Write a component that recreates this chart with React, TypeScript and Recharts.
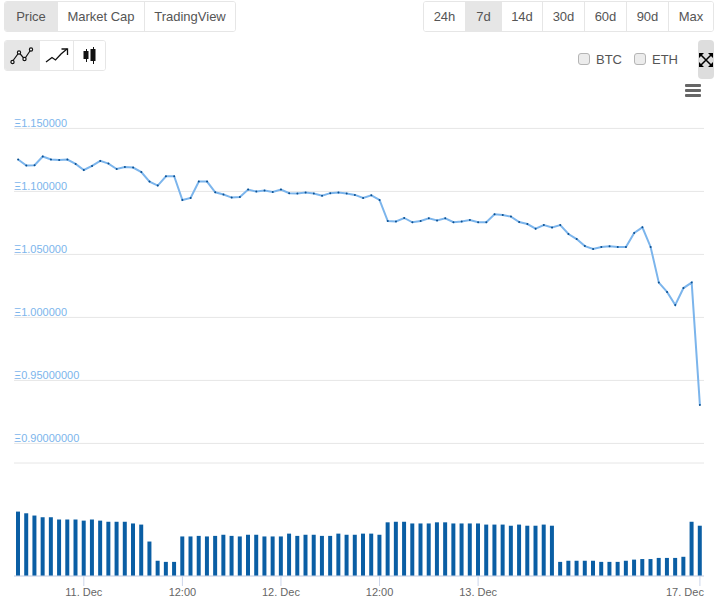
import React from "react";
import { Bar, CartesianGrid, ComposedChart, Line, XAxis, YAxis } from "recharts";

const priceValues = [
  1.1253, 1.1205, 1.1208, 1.1277, 1.1253, 1.125, 1.1253, 1.1218, 1.117, 1.1202,
  1.1242, 1.1221, 1.1178, 1.1194, 1.1189, 1.1154, 1.1078, 1.1046, 1.112, 1.112,
  1.0932, 1.0948, 1.1078, 1.1078, 1.0993, 1.0975, 1.0951, 1.0956, 1.1015, 1.0999,
  1.1007, 1.0996, 1.1015, 1.0986, 1.0983, 1.0991, 1.0983, 1.0965, 1.0986, 1.0991,
  1.0983, 1.0972, 1.0948, 1.0969, 1.0932, 1.0765, 1.0762, 1.0789, 1.0755, 1.0765,
  1.0786, 1.077, 1.0786, 1.0755, 1.0762, 1.0773, 1.0755, 1.0755, 1.0818, 1.0813,
  1.08, 1.0757, 1.0741, 1.0704, 1.0733, 1.0714, 1.0733, 1.0662, 1.0622, 1.0566,
  1.0543, 1.0559, 1.0564, 1.0559, 1.0559, 1.067, 1.0715, 1.0559, 1.0276, 1.0202,
  1.0098, 1.0233, 1.0276, 0.9305,
];

const volumeValues = [
  1.14, 1.11, 1.07, 1.04, 1.04, 1.0, 1.0, 1.0, 0.98, 1.0, 0.98, 0.96, 0.96, 0.96,
  0.93, 0.91, 0.61, 0.27, 0.25, 0.25, 0.7, 0.7, 0.71, 0.7, 0.71, 0.73, 0.71, 0.7,
  0.73, 0.73, 0.7, 0.7, 0.7, 0.75, 0.71, 0.73, 0.73, 0.71, 0.71, 0.75, 0.73, 0.73,
  0.75, 0.75, 0.73, 0.95, 0.96, 0.96, 0.93, 0.93, 0.93, 0.95, 0.95, 0.93, 0.93,
  0.93, 0.93, 0.91, 0.91, 0.91, 0.89, 0.91, 0.89, 0.89, 0.91, 0.89, 0.25, 0.27,
  0.27, 0.27, 0.27, 0.25, 0.25, 0.25, 0.27, 0.29, 0.3, 0.3, 0.32, 0.32, 0.32, 0.34,
  0.96, 0.89,
];

const priceTicks = [1.15, 1.1, 1.05, 1.0, 0.95, 0.9];
const volumeTicks = [0, 1, 2];
const dateTickIndexes = [8, 20, 32, 44, 56, 83];
const dateTickLabels = ["11. Dec", "12:00", "12. Dec", "12:00", "13. Dec", "17. Dec"];
const viewTabs = ["Price", "Market Cap", "TradingView"];
const rangeTabs = ["24h", "7d", "14d", "30d", "60d", "90d", "Max"];
const compareCoins = ["BTC", "ETH"];

const FONT = '"Liberation Sans", Arial, sans-serif';

const rows = priceValues.map((price, i) => ({ i, price, volume: volumeValues[i] }));

function fmtPrice(v: number): string {
  return "Ξ" + (v >= 1 ? v.toFixed(6) : v.toFixed(8));
}

function PriceTick({ y, payload }: any) {
  return (
    <text x={14} y={y - 1} fontSize={11} fontFamily={FONT} fill="#7cb5ec">
      {fmtPrice(payload.value)}
    </text>
  );
}

function DateTick({ x, y, payload }: any) {
  const idx = dateTickIndexes.indexOf(payload.value);
  const last = idx === dateTickIndexes.length - 1;
  return (
    <text
      x={last ? x + 4 : x}
      y={y + 8}
      textAnchor={last ? "end" : "middle"}
      fontSize={11}
      fontFamily={FONT}
      fill="#666666"
    >
      {dateTickLabels[idx]}
    </text>
  );
}

function Tabs({ labels, active, widths, left }: { labels: string[]; active: string; widths: number[]; left: number }) {
  return (
    <div
      style={{
        position: "absolute",
        left,
        top: 1,
        height: 29,
        display: "flex",
        border: "1px solid #e6e6e6",
        borderRadius: 3,
        overflow: "hidden",
        fontSize: 13,
        color: "#555",
        fontFamily: FONT,
      }}
    >
      {labels.map((l, i) => (
        <div
          key={l}
          style={{
            width: widths[i],
            boxSizing: "border-box",
            lineHeight: "29px",
            textAlign: "center",
            background: l === active ? "#e6e6e6" : "#fff",
            borderLeft: i > 0 ? "1px solid #e6e6e6" : "none",
          }}
        >
          {l}
        </div>
      ))}
    </div>
  );
}

function LineIcon() {
  return (
    <svg width="24" height="20" viewBox="0 0 24 20" fill="none" stroke="#111" strokeWidth="1.2">
      <path d="M2 16 L9 6.5 L14.5 13 L21 3.5" />
      <circle cx="2.5" cy="16" r="1.6" fill="#fff" />
      <circle cx="9" cy="6.5" r="1.6" fill="#fff" />
      <circle cx="14.5" cy="13" r="1.6" fill="#fff" />
      <circle cx="21" cy="3.5" r="1.6" fill="#fff" />
    </svg>
  );
}

function TrendIcon() {
  return (
    <svg width="24" height="20" viewBox="0 0 24 20" fill="none" stroke="#111" strokeWidth="1.3">
      <path d="M1 16 L7 11.5 L10.5 14 L16 8 L22 3" />
      <path d="M16.5 3 H22.5 V9" />
    </svg>
  );
}

function CandleIcon() {
  return (
    <svg width="16" height="20" viewBox="0 0 16 20" fill="#111" stroke="#111">
      <path d="M4.5 3 V16 M11.5 1 V18" strokeWidth="1" />
      <rect x="2" y="5.5" width="4" height="7" />
      <rect x="9" y="3.5" width="4" height="11" />
    </svg>
  );
}

function ExpandIcon() {
  return (
    <svg width="14" height="14" viewBox="0 0 14 14" fill="#000" stroke="#000">
      <path d="M2 2 L12 12 M12 2 L2 12" strokeWidth="1.5" />
      <path d="M0 0 H5 L0 5 Z M14 0 H9 L14 5 Z M0 14 H5 L0 9 Z M14 14 H9 L14 9 Z" strokeWidth="0" />
    </svg>
  );
}

export default function App() {
  const iconBtn = (left: number, width: number, active: boolean, icon: React.ReactNode) => (
    <div
      style={{
        position: "absolute",
        left,
        top: 0,
        width,
        height: 29,
        display: "flex",
        alignItems: "center",
        justifyContent: "center",
        background: active ? "#e6e6e6" : "#fff",
        borderLeft: left > 0 ? "1px solid #e6e6e6" : "none",
        boxSizing: "border-box",
      }}
    >
      {icon}
    </div>
  );

  return (
    <div style={{ position: "absolute", left: 0, top: 0, width: 717, height: 603, background: "#fff", overflow: "hidden" }}>
      <Tabs labels={viewTabs} active="Price" widths={[52, 87, 91]} left={4} />
      <Tabs labels={rangeTabs} active="7d" widths={[41, 36, 41, 42, 42, 42, 45]} left={423} />

      <div
        style={{
          position: "absolute",
          left: 4,
          top: 40,
          width: 100,
          height: 29,
          border: "1px solid #e6e6e6",
          borderRadius: 3,
          overflow: "hidden",
        }}
      >
        {iconBtn(0, 34, true, <LineIcon />)}
        {iconBtn(34, 34, false, <TrendIcon />)}
        {iconBtn(68, 32, false, <CandleIcon />)}
      </div>

      {compareCoins.map((coin, i) => (
        <React.Fragment key={coin}>
          <div
            style={{
              position: "absolute",
              left: 578 + i * 56,
              top: 53,
              width: 10,
              height: 10,
              background: "#ececec",
              border: "1px solid #b5b5b5",
              borderRadius: 3,
            }}
          />
          <div
            style={{
              position: "absolute",
              left: 596 + i * 56,
              top: 51,
              fontSize: 13,
              lineHeight: "18px",
              color: "#555",
              fontFamily: FONT,
            }}
          >
            {coin}
          </div>
        </React.Fragment>
      ))}

      <div
        style={{
          position: "absolute",
          left: 698,
          top: 40,
          width: 16,
          height: 39,
          background: "#dddddd",
          borderRadius: 4,
          display: "flex",
          alignItems: "center",
          justifyContent: "center",
        }}
      >
        <ExpandIcon />
      </div>

      <svg style={{ position: "absolute", left: 685, top: 84 }} width="16" height="13">
        <rect x="0" y="0" width="16" height="3" rx="1" fill="#666" />
        <rect x="0" y="5" width="16" height="3" rx="1" fill="#666" />
        <rect x="0" y="10" width="16" height="3" rx="1" fill="#666" />
      </svg>

      <div style={{ position: "absolute", left: 0, top: 0 }}>
        <ComposedChart width={717} height={450} data={rows} margin={{ top: 128.4, right: 13, bottom: 6.6, left: 13 }}>
          <CartesianGrid vertical={false} stroke="#e6e6e6" />
          <XAxis dataKey="i" hide scale="band" />
          <YAxis
            domain={[0.9, 1.15]}
            ticks={priceTicks}
            width={1}
            axisLine={false}
            tickLine={false}
            tick={<PriceTick />}
            interval={0}
          />
          <Line
            dataKey="price"
            type="linear"
            stroke="#7cb5ec"
            strokeWidth={2}
            dot={{ r: 1, fill: "#0b4f8f", stroke: "none" }}
            isAnimationActive={false}
          />
        </ComposedChart>
      </div>

      <div style={{ position: "absolute", left: 0, top: 450 }}>
        <ComposedChart width={717} height={153} data={rows} margin={{ top: 13, right: 13, bottom: 0, left: 14 }}>
          <CartesianGrid vertical={false} stroke="#e6e6e6" />
          <XAxis
            dataKey="i"
            ticks={dateTickIndexes}
            interval={0}
            height={27}
            stroke="#ccd6eb"
            tickSize={10}
            tick={<DateTick />}
          />
          <YAxis domain={[0, 2]} ticks={volumeTicks} width={0} axisLine={false} tickLine={false} tick={false} />
          <Bar dataKey="volume" fill="#0a5ea4" barSize={4} isAnimationActive={false} />
        </ComposedChart>
      </div>
    </div>
  );
}
